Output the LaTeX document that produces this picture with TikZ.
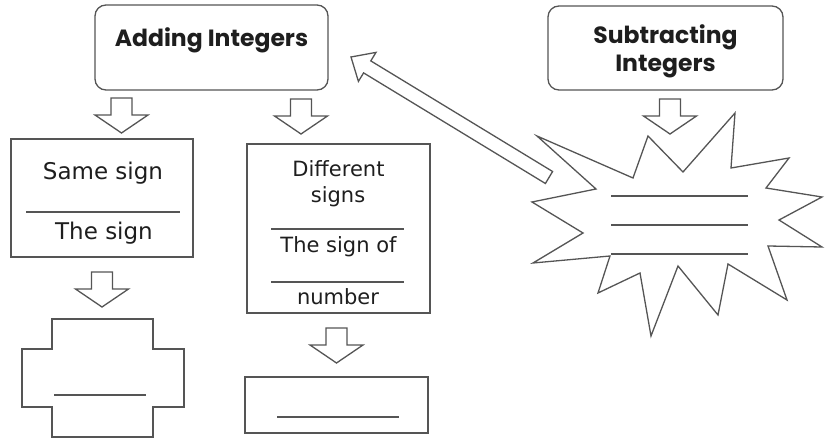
\documentclass[tikz,border=0pt]{standalone}
\usepackage{fontspec}
\setmainfont{DejaVu Sans}
\newfontfamily\headfont{Poppins}
\usetikzlibrary{positioning}

\definecolor{edgegray}{HTML}{555555}
\definecolor{textgray}{HTML}{1E1E1E}

\begin{document}
\begin{tikzpicture}[x=1pt,y=-1pt,
    plainbox/.style={draw=edgegray,line width=1.3pt,inner sep=0pt},
    headbox/.style={plainbox,rounded corners=11pt},
    headtext/.style={font=\headfont\bfseries\fontsize{23.5}{28.4}\selectfont,text=textgray},
    boxtext/.style={font=\fontsize{23}{28}\selectfont,text=textgray,anchor=base},
    smalltext/.style={boxtext,font=\fontsize{21}{26}\selectfont},
    blankline/.style={draw=edgegray,line width=2.2pt},
    blockdown/.pic={\draw[plainbox,fill=white] (-10.5,0) -- (10.5,0) -- (10.5,17) -- (26.5,17) -- (0,35) -- (-26.5,17) -- (-10.5,17) -- cycle;}]

\useasboundingbox (0,0) rectangle (825,438);

% top boxes
\node[headbox,minimum width=233pt,minimum height=85pt] (add) at (211.5,47.5) {};
\node[headtext,anchor=base] (addlabel) at (211.5,46.7) {Adding Integers};
\node[headbox,minimum width=235pt,minimum height=84pt] (sub) at (665.5,48) {};
\node[headtext,align=center] (sublabel) at (665.5,51.6) {Subtracting\\Integers};

\pic at (121.5,98) {blockdown};
\pic at (301,99) {blockdown};
\pic at (670,99) {blockdown};

% same sign
\node[plainbox,minimum width=182pt,minimum height=118pt] (same) at (102,198) {};
\node[boxtext] (samelabel) at (103,180) {Same sign};
\draw[blankline] (26,212) -- (180,212);
\node[boxtext] (samesign) at (104,240) {The sign};

% different signs
\node[plainbox,minimum width=183pt,minimum height=169pt] (diff) at (338.5,228.5) {};
\node[smalltext] (difflabel) at (338.5,176.7) {Different};
\node[smalltext] (difflabel2) at (338,202.7) {signs};
\draw[blankline] (271,229) -- (404,229);
\node[smalltext] (diffsign) at (338.5,253) {The sign of};
\draw[blankline] (271,282) -- (404,282);
\node[smalltext] (diffnum) at (338,305) {number};

\pic at (102,272) {blockdown};
\pic at (336.5,328) {blockdown};

% cross
\draw[plainbox] (52,319) -- (153,319) -- (153,349) -- (184,349) -- (184,407) -- (153,407)
  -- (153,437) -- (52,437) -- (52,407) -- (22,407) -- (22,349) -- (52,349) -- cycle;
\draw[blankline] (54,395) -- (146,395);

\node[plainbox,minimum width=183pt,minimum height=56pt] (result) at (336.5,405) {};
\draw[blankline] (277,417) -- (399,417);

% starburst
\draw[plainbox,fill=white] (537,136) -- (633,178) -- (648,136) -- (683,172) -- (735,113)
  -- (731,168) -- (789,158) -- (766,188) -- (822,197) -- (779,220) -- (822,247)
  -- (768,246) -- (787,300) -- (728,264) -- (718,315) -- (678,266) -- (651,336)
  -- (640,273) -- (598,293) -- (610,256) -- (533,263) -- (583,233) -- (532,202)
  -- (596,189) -- cycle;
\draw[blankline] (611,196) -- (748,196);
\draw[blankline] (611,225) -- (748,225);
\draw[blankline] (611,254) -- (748,254);

% back arrow
\draw[plainbox,fill=white] (552.6,171.5) -- (370.8,60.9) -- (376,52.4) -- (351,57)
  -- (358.4,81.4) -- (363.6,72.9) -- (545.4,183.5) -- cycle;

\end{tikzpicture}
\end{document}
